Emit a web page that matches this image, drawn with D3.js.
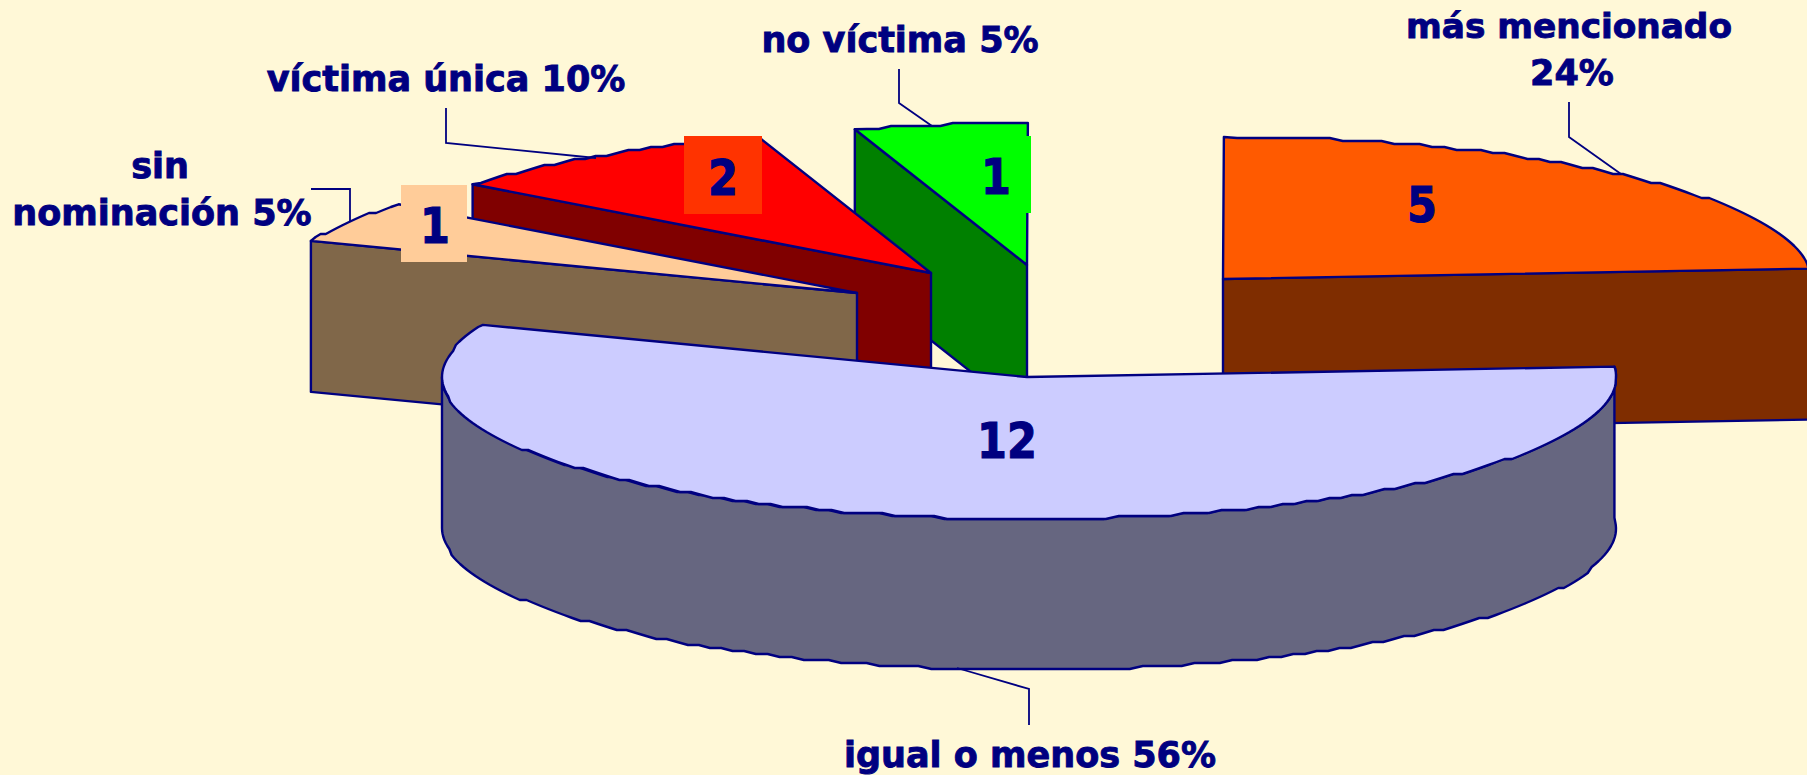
<!DOCTYPE html>
<html><head><meta charset="utf-8">
<script src="https://cdn.jsdelivr.net/npm/d3@7/dist/d3.min.js"></script>
<style>html,body{margin:0;padding:0;background:#FFF8D7;overflow:hidden}svg{display:block}</style>
</head><body><svg id="c" width="1807" height="775"></svg>
<script>
// data
const categories = ["igual o menos","sin nominación","víctima única","no víctima","más mencionado"];
const counts = [12,1,2,1,5];
const percents = [56,5,10,5,24];
const topColors = ["#CCCCFF","#FFCC99","#FF0000","#00FF00","#FF5A00"];
const wallColors = ["#666680","#806749","#800000","#008000","#7F2D00"];

// layout
const W=1807,H=775,NAVY="#000080";
const RX=587, RY=142, DEPTH=151, START=-4.2*Math.PI/180;
const centers=[[1027,377],[857,293],[931,273],[1027,265],[1223,279]];
const rimShift=[2,0,0,0,0];
const valueBox=[null,[401,185,66,77],[684,136,78,78],[966,136,65,77],null];
const valueAt=[[1007,458],[435,243],[723,195],[996,194],[1422,222]];
const valueFill=[null,"#FFCC99","#FF3300","#00FF00",null];
const drawOrder=[4,3,2,1,0];

const svg=d3.select("#c");
svg.append("rect").attr("width",W).attr("height",H).attr("fill","#FFF8D7");

const pie=d3.pie().sort(null).startAngle(START).endAngle(START+2*Math.PI);
const arcs=pie(counts);
const sx=d3.scaleLinear().domain([-1,1]).range([-RX,RX]);
const sy=d3.scaleLinear().domain([-1,1]).range([-RY,RY]);
const line=d3.line();

function rim(c,a0,a1,dy){
  const n=Math.max(2,Math.ceil(Math.abs(a1-a0)/(1.3*Math.PI/180))),pts=[];
  for(let i=0;i<=n;i++){
    const t=a0+(a1-a0)*i/n;
    let x=c[0]+sx(Math.cos(t)),y=c[1]+sy(Math.sin(t))+dy;
    if(i>0&&i<n){y=Math.round(y/3)*3;}
    pts.push([x,y]);
  }
  return pts;
}
const stroke=(s,w)=>s.attr("stroke",NAVY).attr("stroke-width",w||2.4).attr("stroke-linejoin","round");

function drawSlice(i){
  const c=centers[i],a=arcs[i],g=svg.append("g").attr("class","slice");
  const rc=[c[0]+rimShift[i],c[1]];
  const p=t=>[rc[0]+sx(Math.cos(t)),rc[1]+sy(Math.sin(t))];
  if(i===0){
    const top=rim(rc,a.startAngle,Math.PI,0),bot=rim(rc,a.startAngle,Math.PI,DEPTH).reverse();
    g.append("path").attr("d",line(top.concat(bot))+"Z").attr("fill",wallColors[i]).call(stroke);
  } else {
    const cut=(i===4)?p(a.endAngle):p(a.startAngle);
    const poly=[cut,c,[c[0],c[1]+DEPTH],[cut[0],cut[1]+DEPTH]];
    g.append("path").attr("d",line(poly)+"Z").attr("fill",wallColors[i]).call(stroke);
  }
  const topPts=[c].concat(rim(rc,a.startAngle,a.endAngle,0));
  g.append("path").attr("d",line(topPts)+"Z").attr("fill",topColors[i]).call(stroke);
  if(valueBox[i]){
    const b=valueBox[i];
    g.append("rect").attr("x",b[0]).attr("y",b[1]).attr("width",b[2]).attr("height",b[3]).attr("fill",valueFill[i]);
  }
}
drawOrder.forEach(drawSlice);

const font="'DejaVu Sans',Verdana,sans-serif";
// value labels
counts.forEach((v,i)=>{
  svg.append("text").attr("transform",`translate(${valueAt[i][0]},${valueAt[i][1]}) scale(0.86,1)`)
    .attr("text-anchor","middle").attr("font-family",font).attr("font-weight","bold")
    .attr("font-size",50).attr("fill",NAVY).attr("stroke",NAVY).attr("stroke-width",1.2).text(v);
});

// leader lines
const leaders=[
 [[1029,725],[1029,689],[957,668]],
 [[311,189],[350,189],[350,222]],
 [[446,108],[446,143],[596,158]],
 [[899,69],[899,103],[932,126]],
 [[1569,102],[1569,137],[1621,174]]
];
leaders.forEach(l=>svg.append("path").attr("d",line(l)).attr("fill","none").attr("stroke",NAVY).attr("stroke-width",1.8));

// category labels
const labelLines=categories.map((c,i)=>{
  if(i===4) return [c,percents[i]+"%"];
  if(i===1) return ["sin",c.split(" ")[1]+" "+percents[i]+"%"];
  return [c+" "+percents[i]+"%"];
});
const labelAt=[[[1030,767]],[[160,178],[162,225]],[[446,91]],[[900,52]],[[1569,38],[1572,85]]];
labelLines.forEach((ls,i)=>ls.forEach((t,j)=>{
  svg.append("text").attr("x",labelAt[i][j][0]).attr("y",labelAt[i][j][1])
    .attr("text-anchor","middle").attr("font-family",font).attr("font-weight","bold")
    .attr("font-size",i===4&&j===0?34.3:35).attr("fill",NAVY).attr("stroke",NAVY).attr("stroke-width",0.9).text(t);
}));
</script></body></html>
